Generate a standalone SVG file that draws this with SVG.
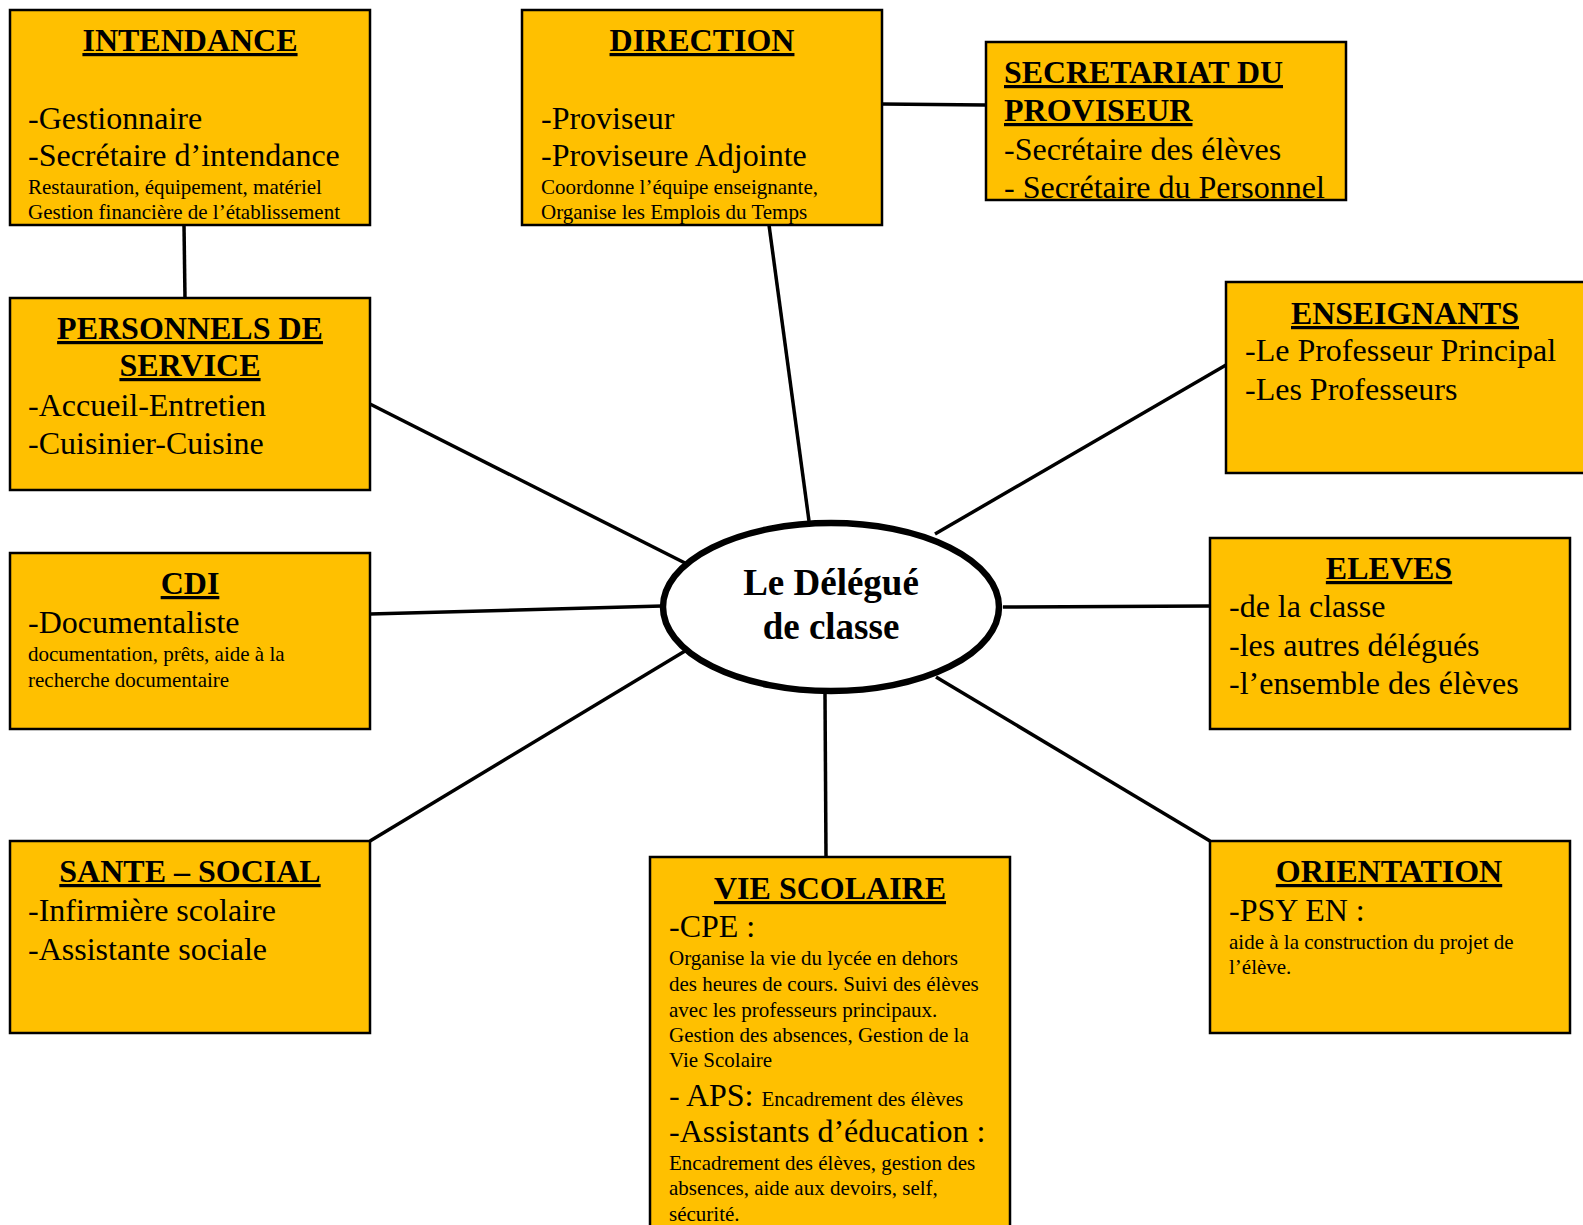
<svg xmlns="http://www.w3.org/2000/svg" width="1583" height="1225" viewBox="0 0 1583 1225">
<defs>
<style>
.box{fill:#FFC000;stroke:#000;stroke-width:2.5}
.t{font-family:"Liberation Serif","Times New Roman",serif;fill:#000}
.h{font-size:32px;font-weight:bold;text-decoration:underline}
.l{font-size:32px}
.s{font-size:21px}
.m{text-anchor:middle}
.c{stroke:#000;stroke-width:3.5;fill:none}
</style>
</defs>
<rect width="1583" height="1225" fill="#fff"/>
<g id="connectors">
<line class="c" x1="184" y1="225" x2="185" y2="298"/>
<line class="c" x1="881" y1="104" x2="986" y2="105"/>
<line class="c" x1="769" y1="225" x2="809" y2="521"/>
<line class="c" x1="370" y1="404" x2="685" y2="563"/>
<line class="c" x1="370" y1="614" x2="662" y2="606"/>
<line class="c" x1="370" y1="841" x2="685" y2="651"/>
<line class="c" x1="825" y1="694" x2="826" y2="857"/>
<line class="c" x1="936" y1="677" x2="1210" y2="841"/>
<line class="c" x1="1003" y1="607" x2="1210" y2="606"/>
<line class="c" x1="935" y1="534" x2="1226" y2="365"/>
</g>
<g id="intendance">
<rect class="box" x="10" y="10" width="360" height="215"/>
<text class="t h m" x="190" y="51">INTENDANCE</text>
<text class="t l" x="28" y="129">-Gestionnaire</text>
<text class="t l" x="28" y="166">-Secrétaire d’intendance</text>
<text class="t s" x="28" y="194">Restauration, équipement, matériel</text>
<text class="t s" x="28" y="219">Gestion financière de l’établissement</text>
</g>
<g id="direction">
<rect class="box" x="522" y="10" width="360" height="215"/>
<text class="t h m" x="702" y="51">DIRECTION</text>
<text class="t l" x="541" y="129">-Proviseur</text>
<text class="t l" x="541" y="166">-Proviseure Adjointe</text>
<text class="t s" x="541" y="194">Coordonne l’équipe enseignante,</text>
<text class="t s" x="541" y="219">Organise les Emplois du Temps</text>
</g>
<g id="secretariat">
<rect class="box" x="986" y="42" width="360" height="158"/>
<text class="t h" x="1004" y="83" textLength="279" lengthAdjust="spacingAndGlyphs">SECRETARIAT DU</text>
<text class="t h" x="1004" y="121">PROVISEUR</text>
<text class="t l" x="1004" y="160">-Secrétaire des élèves</text>
<text class="t l" x="1004" y="198">- Secrétaire du Personnel</text>
</g>
<g id="personnels">
<rect class="box" x="10" y="298" width="360" height="192"/>
<text class="t h m" x="190" y="339">PERSONNELS DE</text>
<text class="t h m" x="190" y="376">SERVICE</text>
<text class="t l" x="28" y="416">-Accueil-Entretien</text>
<text class="t l" x="28" y="454">-Cuisinier-Cuisine</text>
</g>
<g id="enseignants">
<rect class="box" x="1226" y="282" width="400" height="191"/>
<text class="t h m" x="1405" y="324" textLength="228" lengthAdjust="spacingAndGlyphs">ENSEIGNANTS</text>
<text class="t l" x="1245" y="361">-Le Professeur Principal</text>
<text class="t l" x="1245" y="400">-Les Professeurs</text>
</g>
<g id="cdi">
<rect class="box" x="10" y="553" width="360" height="176"/>
<text class="t h m" x="190" y="594">CDI</text>
<text class="t l" x="28" y="633">-Documentaliste</text>
<text class="t s" x="28" y="661">documentation, prêts, aide à la</text>
<text class="t s" x="28" y="687">recherche documentaire</text>
</g>
<g id="eleves">
<rect class="box" x="1210" y="538" width="360" height="191"/>
<text class="t h m" x="1389" y="579">ELEVES</text>
<text class="t l" x="1229" y="617">-de la classe</text>
<text class="t l" x="1229" y="656">-les autres délégués</text>
<text class="t l" x="1229" y="694">-l’ensemble des élèves</text>
</g>
<g id="delegue">
<ellipse cx="831" cy="607" rx="168" ry="84" fill="#fff" stroke="#000" stroke-width="6.5"/>
<text class="t m" x="831" y="595" font-size="37" font-weight="bold">Le Délégué</text>
<text class="t m" x="831" y="639" font-size="37" font-weight="bold">de classe</text>
</g>
<g id="sante">
<rect class="box" x="10" y="841" width="360" height="192"/>
<text class="t h m" x="190" y="882">SANTE – SOCIAL</text>
<text class="t l" x="28" y="921">-Infirmière scolaire</text>
<text class="t l" x="28" y="960">-Assistante sociale</text>
</g>
<g id="vie-scolaire">
<rect class="box" x="650" y="857" width="360" height="390"/>
<text class="t h m" x="830" y="899">VIE SCOLAIRE</text>
<text class="t l" x="669" y="937">-CPE :</text>
<text class="t s" x="669" y="965">Organise la vie du lycée en dehors</text>
<text class="t s" x="669" y="991">des heures de cours. Suivi des élèves</text>
<text class="t s" x="669" y="1017">avec les professeurs principaux.</text>
<text class="t s" x="669" y="1042">Gestion des absences, Gestion de la</text>
<text class="t s" x="669" y="1067">Vie Scolaire</text>
<text class="t" x="669" y="1106"><tspan class="l">- APS: </tspan><tspan class="s">Encadrement des élèves</tspan></text>
<text class="t l" x="669" y="1142">-Assistants d’éducation :</text>
<text class="t s" x="669" y="1170">Encadrement des élèves, gestion des</text>
<text class="t s" x="669" y="1195">absences, aide aux devoirs, self,</text>
<text class="t s" x="669" y="1221">sécurité.</text>
</g>
<g id="orientation">
<rect class="box" x="1210" y="841" width="360" height="192"/>
<text class="t h m" x="1389" y="882">ORIENTATION</text>
<text class="t l" x="1229" y="921">-PSY EN :</text>
<text class="t s" x="1229" y="949">aide à la construction du projet de</text>
<text class="t s" x="1229" y="974">l’élève.</text>
</g>
</svg>
